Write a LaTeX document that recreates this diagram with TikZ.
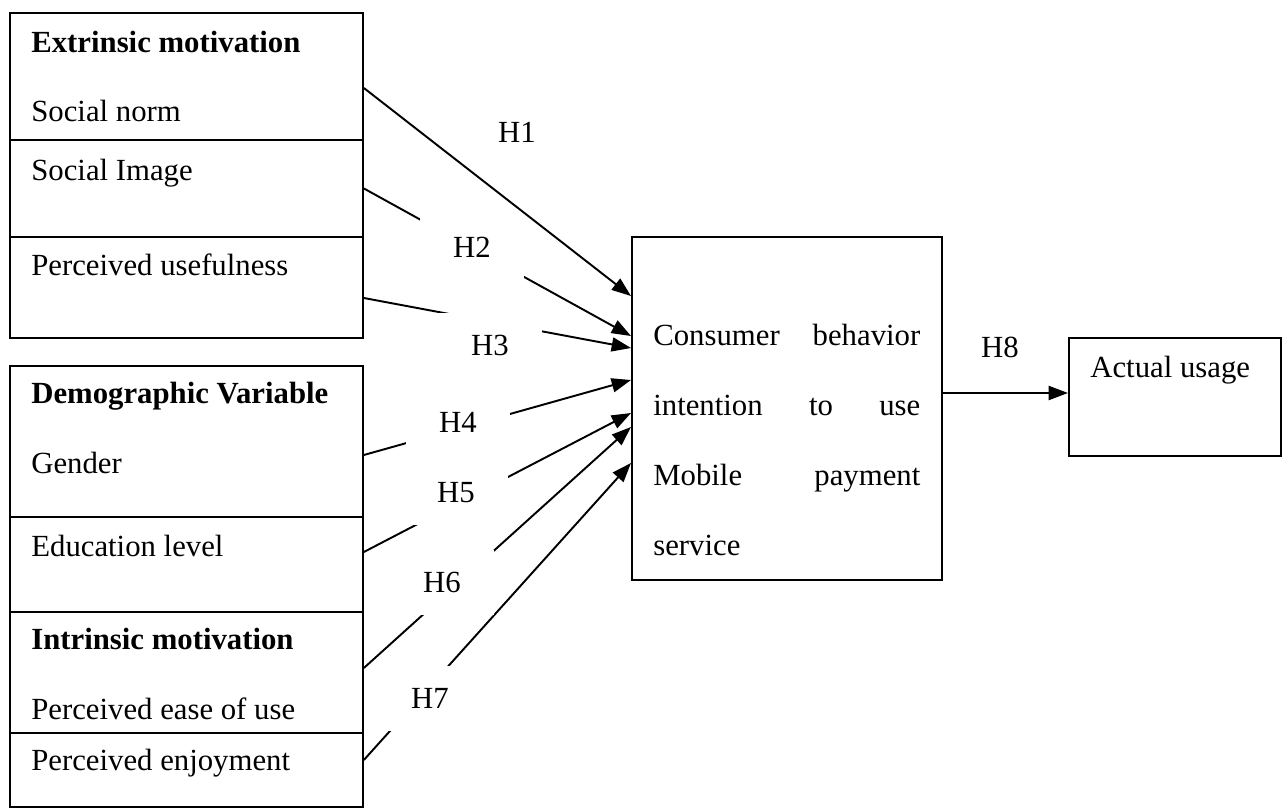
\documentclass[tikz,border=0pt]{standalone}
\usepackage{fontspec}
\setmainfont{Liberation Serif}
\usetikzlibrary{arrows.meta,calc}

\begin{document}
\begin{tikzpicture}[x=0.02cm,y=-0.02cm,
    font=\fontsize{17.5}{40}\selectfont,
    box/.style={draw,line width=1.1pt,inner sep=0pt,anchor=north west,minimum width=7.06cm},
    txt/.style={anchor=base west,inner sep=0pt},
    hyp/.style={fill=white,inner sep=0pt,minimum width=2.1cm,minimum height=1.3cm},
    link/.style={line width=1.1pt,-{Triangle[length=11pt,width=8pt]}}]
    \useasboundingbox (0,0) rectangle (1285,808);

    \node[box,minimum height=2.54cm] (ext) at (9,12) {};
    \node[box,minimum height=1.94cm] (img) at (9,139) {};
    \node[box,minimum height=2.02cm] (use) at (9,236) {};
    \node[box,minimum height=3.02cm] (demo) at (9,365) {};
    \node[box,minimum height=1.90cm] (edu) at (9,516) {};
    \node[box,minimum height=2.42cm] (intr) at (9,611) {};
    \node[box,minimum height=1.49cm] (enj) at (9,732) {};

    \node[txt] (exthead) at (31,52) {\textbf{Extrinsic motivation}};
    \node[txt] (norm) at (31,121) {Social norm};
    \node[txt] (image) at (31,180) {Social Image};
    \node[txt] (useful) at (31,275) {Perceived usefulness};
    \node[txt] (demohead) at (31,403) {\textbf{Demographic Variable}};
    \node[txt] (gender) at (31,473) {Gender};
    \node[txt] (level) at (31,556) {Education level};
    \node[txt] (intrhead) at (31,649) {\textbf{Intrinsic motivation}};
    \node[txt] (ease) at (31,719) {Perceived ease of use};
    \node[txt] (enjoy) at (31,770) {Perceived enjoyment};

    \node[box,minimum width=6.2cm,minimum height=6.86cm] (cbi) at (631,236) {};
    \node[txt,text width=5.34cm,align=left] (cbitext) at (653,345)
        {Consumer\hfill behavior\\ intention\hfill to\hfill use\\ Mobile\hfill payment\\ service};

    \node[box,minimum width=4.24cm,minimum height=2.36cm] (au) at (1068,337) {};
    \node[txt] (autext) at (1090,377) {Actual usage};

    \draw[link] ($(ext.north east)+(0,76)$) -- ($(cbi.north west)+(0,60)$);
    \draw[link] (img.east) -- ($(cbi.north west)+(0,100)$);
    \draw[link] ($(use.north east)+(0,62)$) -- ($(cbi.north west)+(0,112)$);
    \draw[link] ($(demo.north east)+(0,90)$) -- ($(cbi.north west)+(0,144)$);
    \draw[link] ($(edu.north east)+(0,36)$) -- ($(cbi.north west)+(0,177)$);
    \draw[link] ($(intr.north east)+(0,57)$) -- ($(cbi.north west)+(0,191)$);
    \draw[link] ($(enj.north east)+(0,28)$) -- ($(cbi.north west)+(0,227)$);
    \draw[link] ($(cbi.north east)+(0,157)$) -- ($(au.north west)+(0,56)$);

    \node[hyp] (h1) at (517,132) {H1};
    \node[hyp] (h2) at (472,247) {H2};
    \node[hyp] (h3) at (490,345) {H3};
    \node[hyp] (h4) at (458,422) {H4};
    \node[hyp] (h5) at (456,493) {H5};
    \node[hyp] (h6) at (442,582) {H6};
    \node[hyp] (h7) at (430,698) {H7};
    \node[hyp] (h8) at (1000,347) {H8};
\end{tikzpicture}
\end{document}
